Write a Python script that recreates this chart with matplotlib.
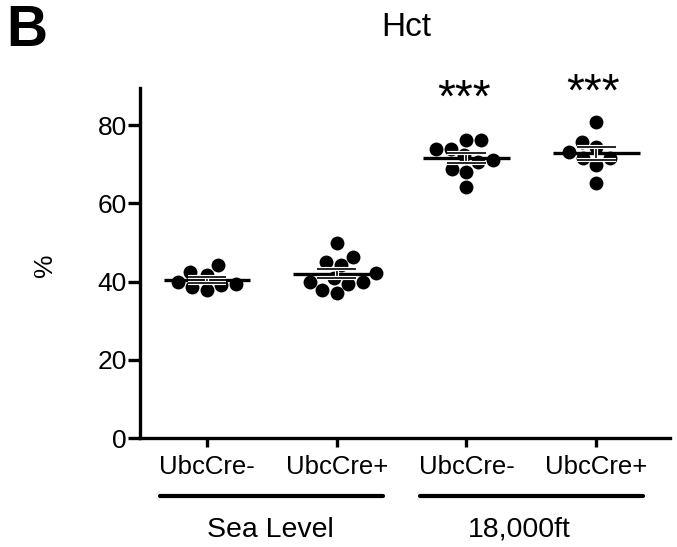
import numpy as np
import matplotlib
matplotlib.use('Agg')
import matplotlib.pyplot as plt
import matplotlib.patheffects as pe
from matplotlib.transforms import blended_transform_factory

plt.rcParams['font.family'] = ['Liberation Sans', 'DejaVu Sans']

# Hct values (%)
sea_cre_neg = [38.7, 41.7, 37.8, 44.2, 39.1, 42.5, 40.0, 39.5]
sea_cre_pos = [49.8, 45.1, 46.3, 44.2, 42.1, 40.0, 39.5, 40.0, 40.8, 37.0, 37.8]
alt_cre_neg = [76.2, 76.2, 74.0, 74.0, 72.3, 71.1, 70.6, 68.9, 68.1, 64.2]
alt_cre_pos = [80.8, 75.7, 74.5, 73.2, 71.5, 71.5, 69.8, 65.1]

groups = [sea_cre_neg, sea_cre_pos, alt_cre_neg, alt_cre_pos]
tick_labels = ['UbcCre-', 'UbcCre+', 'UbcCre-', 'UbcCre+']
conditions = ['Sea Level', '18,000ft']
stars = ['', '', '***', '***']
star_y = [None, None, 83.4, 84.9]


def swarm(values, dia, sx, sy):
    # simple beeswarm: offsets in data units, dia in pixels
    order = np.argsort(values)
    placed = []
    offs = np.zeros(len(values))
    for i in order:
        y = values[i] * sy
        bad = []
        for xo, yo in placed:
            dy = abs(y - yo)
            if dy < dia:
                w = np.sqrt(dia ** 2 - dy ** 2)
                bad.append((xo - w, xo + w))
        cands = [0.0] + [b for iv in bad for b in iv]
        cands = sorted(cands, key=abs)
        for c in cands:
            if all(not (lo + 1e-6 < c < hi - 1e-6) for lo, hi in bad):
                break
        placed.append((c, y))
        offs[i] = c / sx
    return offs


fig = plt.figure(figsize=(6.77, 5.47), dpi=100)
ax = fig.add_axes([140 / 677, 109 / 547, 530 / 677, 350 / 547])
ax.set_xlim(0.483, 4.57)
ax.set_ylim(0, 89.5)

px_x = 129.7
px_y = 350 / 89.5

for i, vals in enumerate(groups):
    pos = i + 1
    vals = np.array(vals)
    offs = swarm(vals, 15, px_x, px_y)
    ax.scatter(pos + offs, vals, s=100, color='black', zorder=3, linewidths=0)
    m = vals.mean()
    sem = vals.std(ddof=1) / np.sqrt(len(vals))
    ax.hlines(m, pos - 0.335, pos + 0.335, color='black', lw=2.4, zorder=4)
    eb = ax.errorbar(pos, m, yerr=sem, fmt='none', ecolor='black', elinewidth=1.2,
                     capsize=14, capthick=1.2, zorder=5)
    for art in eb.lines[1] + eb.lines[2]:
        art.set_path_effects([pe.Stroke(linewidth=3, foreground='white'), pe.Normal()])
    if stars[i]:
        ax.text(pos - 0.02, star_y[i], stars[i], ha='center', va='baseline', fontsize=33)

ax.spines['top'].set_visible(False)
ax.spines['right'].set_visible(False)
ax.spines['left'].set_linewidth(2.4)
ax.spines['bottom'].set_linewidth(2.4)
ax.set_yticks([0, 20, 40, 60, 80])
ax.set_xticks([1, 2, 3, 4])
ax.set_xticklabels(tick_labels)
ax.tick_params(axis='y', length=8.5, width=2.4, pad=1, labelsize=19)
ax.tick_params(axis='x', length=6.5, width=2.4, pad=6, labelsize=18.5)

# condition brackets under the tick labels
trans = blended_transform_factory(ax.transData, fig.transFigure)
for k, name in enumerate(conditions):
    c = 1.5 + 2 * k
    ax.plot([c - 0.86, c + 0.86], [51 / 547, 51 / 547], color='black', lw=3,
            solid_capstyle='round', transform=trans, clip_on=False)
    ax.text(c - 0.01 - 0.08 * k, 17 / 547, name, ha='center', va='center', fontsize=20.5,
            transform=trans)

fig.text(45 / 677, 1 - 265 / 547, '%', rotation=90, ha='center', va='center', fontsize=19)
fig.text(406 / 677, 1 - 28 / 547, 'Hct', ha='center', va='center', fontsize=24)
fig.text(6 / 677, 1 - 31 / 547, 'B', ha='left', va='center', fontsize=41, fontweight='bold')

fig.savefig('out.png', dpi=100)
